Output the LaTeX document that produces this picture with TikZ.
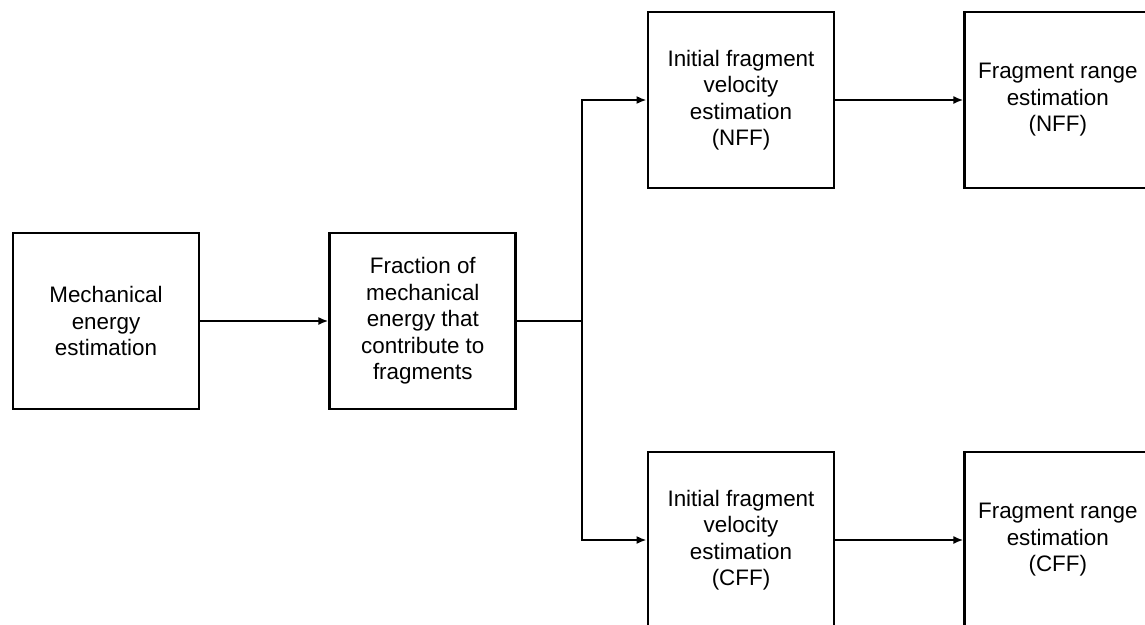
\documentclass[tikz,border=0pt]{standalone}
\usepackage{fontspec}
\setmainfont{Liberation Sans}
\usepackage{tikz}
\usetikzlibrary{positioning, arrows.meta}

\begin{document}
\begin{tikzpicture}[x=1pt, y=-1pt, >={Latex[length=10pt,width=8pt]},
	box/.style={draw, line width=2.8pt, minimum width=186pt, minimum height=176pt, align=center, inner sep=0pt, font=\fontsize{22.4}{26.5}\selectfont}]

		\useasboundingbox (0,0) rectangle (1145,624);
		\clip (0,0) rectangle (1145,624);

		% nodes - left chain %
		\node[box] (mech) at (106,321) {Mechanical\\energy\\estimation};
		\node[box, right = 128pt of mech] (frac) {Fraction of\\mechanical\\energy that\\contribute to\\fragments};

		% nodes - NFF and CFF rows %
		\node[box] (velN) at (741,100) {Initial fragment\\velocity\\estimation\\(NFF)};
		\node[box, right = 128pt of velN] (rangeN) {Fragment range\\estimation\\(NFF)};
		\node[box] (velC) at (741,540) {Initial fragment\\velocity\\estimation\\(CFF)};
		\node[box, right = 128pt of velC] (rangeC) {Fragment range\\estimation\\(CFF)};

		\coordinate (split) at (582,321);

		% edges %
		\draw[->, line width=2.8pt] (mech) -- (frac);
		\draw[line width=2.8pt] (frac) -- (split);
		\draw[->, line width=2.8pt] (split) |- (velN);
		\draw[->, line width=2.8pt] (split) |- (velC);
		\draw[->, line width=2.8pt] (velN) -- (rangeN);
		\draw[->, line width=2.8pt] (velC) -- (rangeC);
		\end{tikzpicture}
\end{document}
